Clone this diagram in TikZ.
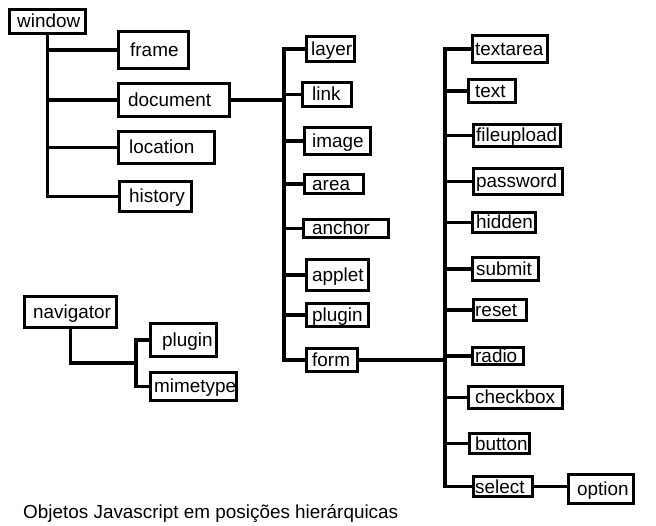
\documentclass[tikz,border=0pt]{standalone}
\usepackage{fontspec}
\setmainfont{Liberation Sans}
\usetikzlibrary{fit}
\tikzset{
  box/.style={draw, line width=3.3pt, inner sep=-1.65pt},
  lbl/.style={anchor=base west, inner sep=0pt, font=\fontsize{18.9}{21}\selectfont},
  conn/.style={line width=3.3pt},
}
\newcommand{\bx}[7]{%
  \coordinate (#1-nw) at (#2,#3);
  \coordinate (#1-se) at (#4,#5);
  \node[box, fit=(#1-nw)(#1-se)] (#1) {};
  \node[lbl] (#1-t) at (#6,{(#3+#5)/2+6.5}) {#7};}
\begin{document}
\begin{tikzpicture}[x=1pt,y=-1pt]
\useasboundingbox (0,0) rectangle (656,526);
\bx{window}{8}{8}{87}{35}{17}{window}
\bx{frame}{117}{30}{190}{70}{130}{frame}
\bx{document}{117}{82}{231}{118}{128}{document}
\bx{location}{117}{130}{216}{165}{129}{location}
\bx{history}{118}{180}{193}{213}{129}{history}
\bx{layer}{305}{35}{356}{63}{311}{layer}
\bx{link}{301}{81}{353}{108}{312}{link}
\bx{image}{303}{126}{372}{156}{312}{image}
\bx{area}{303}{173}{365}{195}{312}{area}
\bx{anchor}{302}{218}{390}{239}{312}{anchor}
\bx{applet}{305}{258}{370}{292}{312}{applet}
\bx{plugin}{305}{302}{370}{328}{312}{plugin}
\bx{form}{305}{347}{359}{373}{312}{form}
\bx{textarea}{471}{34}{549}{64}{475}{textarea}
\bx{textf}{467}{78}{517}{104}{475}{text}
\bx{fileupload}{472}{123}{562}{148}{476}{fileupload}
\bx{password}{472}{167}{564}{196}{476}{password}
\bx{hidden}{471}{211}{537}{234}{476}{hidden}
\bx{submit}{471}{256}{540}{282}{476}{submit}
\bx{reset}{472}{298}{528}{322}{475}{reset}
\bx{radio}{471}{346}{525}{366}{475}{radio}
\bx{checkbox}{467}{385}{564}{410}{475}{checkbox}
\bx{button}{468}{432}{531}{455}{475}{button}
\bx{select}{472}{475}{534}{498}{475}{select}
\bx{option}{567}{473}{635}{505}{577}{option}
\bx{navigator}{23}{295}{118}{329}{33}{navigator}
\bx{plugintwo}{149}{322}{218}{358}{162}{plugin}
\bx{mimetype}{149}{371}{238}{402}{154}{mimetype}
% window tree
\draw[conn] (window.south) |- (history.west);
\foreach \n in {frame,document,location}
  \draw[conn] (window.south |- \n.west) -- (\n.west);
% document tree
\coordinate (x2) at (284,0);
\coordinate (t2) at (document.east -| x2);
\draw[conn] (document.east) -- (t2);
\draw[conn] (layer.west) -| (t2) |- (form.west);
\foreach \n in {link,image,area,anchor,applet,plugin}
  \draw[conn] (t2 |- \n.west) -- (\n.west);
% form tree
\coordinate (x3) at (445,0);
\coordinate (t3) at (form.east -| x3);
\draw[conn] (form.east) -- (t3);
\draw[conn] (textarea.west) -| (t3) |- (select.west);
\foreach \n in {textf,fileupload,password,hidden,submit,reset,radio,checkbox,button}
  \draw[conn] (t3 |- \n.west) -- (\n.west);
\draw[conn] (select.east) -- (select.east -| option.west);
% navigator tree
\coordinate (t4) at (136,363);
\draw[conn] (navigator.south) |- (t4);
\draw[conn] (plugintwo.west) -| (t4) |- (mimetype.west);
% caption
\node[lbl] (caption) at (23,518) {Objetos Javascript em posições hierárquicas};
\end{tikzpicture}
\end{document}
